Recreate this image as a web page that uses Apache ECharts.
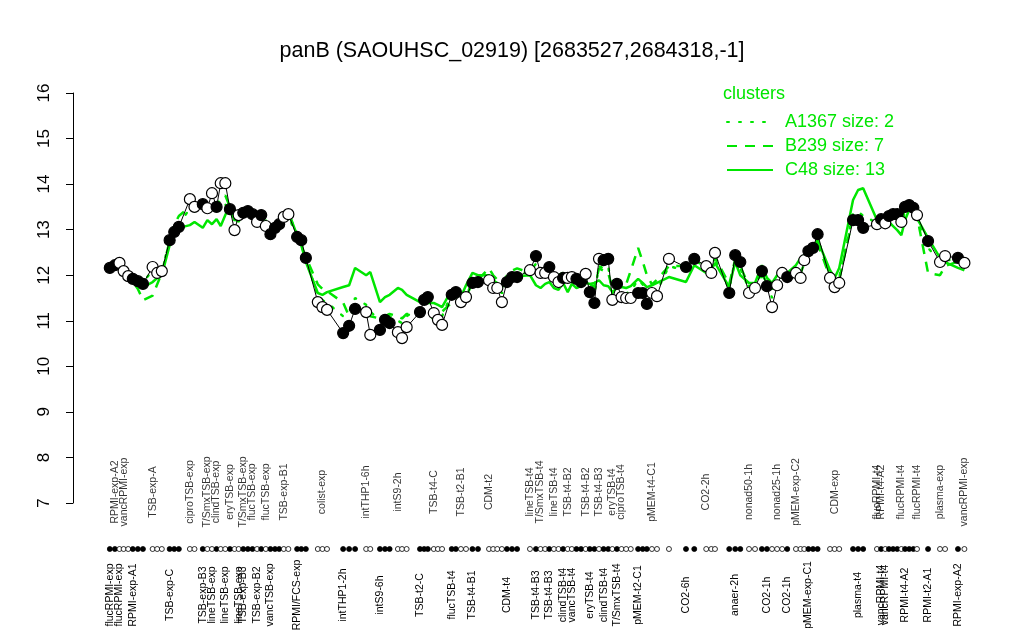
<!DOCTYPE html>
<html><head><meta charset="utf-8">
<script src="https://cdn.jsdelivr.net/npm/echarts@6/dist/echarts.min.js"></script>
<style>html,body{margin:0;padding:0;background:#fff}#c{width:1024px;height:640px}</style>
</head><body><div id="c"></div>
<script>
const chartTitle = 'panB (SAOUHSC_02919) [2683527,2684318,-1]';
const legendTitle = 'clusters';
const clusterNames = ['A1367 size: 2', 'B239 size: 7', 'C48 size: 13'];

// sample order positions (with gaps between condition groups)
const samplePos = [0,1.1,2.1,3.0,4.0,5.0,6.1,7.2,
9.3,10.3,11.3,
13.0,14.0,15.0,
17.4,18.4,
20.2,21.2,22.2,23.2,24.1,25.1,26.1,27.1,28.0,29.0,30.0,31.0,32.0,32.9,33.9,34.9,35.9,36.8,37.8,38.8,
40.7,41.6,42.6,
45.2,46.2,47.2,
50.7,52.0,53.3,
55.7,56.6,
58.7,59.8,60.8,
62.6,63.5,64.5,
67.4,68.3,69.1,
70.4,71.3,72.2,
74.3,75.2,76.3,77.4,78.8,80.0,
82.4,83.3,84.2,85.2,86.3,87.4,88.5,
91.3,92.6,93.6,94.6,95.5,96.5,97.5,98.5,99.5,100.4,101.4,102.4,103.4,104.3,105.3,106.3,107.3,108.3,109.2,110.2,111.2,112.2,113.2,
114.8,115.8,116.7,117.8,118.9,
121.5,
125.2,127.0,
129.6,130.7,131.5,
134.6,135.9,137.0,
138.9,140.2,
141.7,142.8,143.9,145.0,146.1,147.2,
149.1,150.1,150.9,151.8,152.8,153.8,
156.5,157.5,158.5,
161.5,162.6,163.7,
166.7,167.6,168.5,169.3,170.2,171.1,172.0,172.8,173.7,174.6,175.4,
177.8,
180.4,181.5,
184.3,185.7];

const expression = [12.16,12.22,12.27,12.09,11.98,11.92,11.87,11.81,
12.18,12.05,12.09,
12.77,12.95,13.06,
13.67,13.50,
13.56,13.47,13.80,13.50,14.02,14.02,13.45,12.99,13.32,13.37,13.41,13.34,13.17,13.32,13.08,12.90,13.04,13.12,13.28,13.34,
12.84,12.77,12.38,
11.41,11.30,11.24,
10.73,10.89,11.26,
11.19,10.69,
10.80,11.02,10.95,
10.75,10.62,10.86,
11.19,11.46,11.52,
11.17,11.02,10.91,
11.57,11.63,11.41,11.52,11.83,11.85,
11.89,11.72,11.72,11.41,11.85,11.96,11.96,
12.11,12.42,12.05,12.05,12.18,11.96,11.85,11.94,11.94,11.96,11.92,11.85,12.03,11.63,11.39,12.36,12.33,12.36,11.46,11.81,11.52,11.50,11.50,
11.61,11.61,11.37,11.61,11.54,
12.36,
12.18,12.36,
12.20,12.05,12.49,
11.61,12.44,12.29,
11.61,11.72,
12.09,11.76,11.30,11.78,12.05,11.96,
12.05,11.94,12.33,12.53,12.60,12.90,
11.94,11.74,11.83,
13.21,13.21,13.04,
13.12,13.23,13.14,13.30,13.34,13.34,13.17,13.50,13.54,13.48,13.32,
12.75,
12.29,12.42,
12.38,12.27];

// 1 = filled (black) marker, 0 = open marker
const filled = [1,1,0,0,0,1,1,1,
0,0,0,
1,1,1,
0,0,
1,0,0,1,0,0,1,0,0,1,1,1,0,1,0,1,1,1,0,0,
1,1,1,
0,0,0,
1,1,1,
0,0,
1,1,1,
0,0,0,
1,1,1,
0,0,0,
1,1,0,0,1,1,
0,0,0,0,1,1,1,
0,1,0,0,1,0,0,1,0,0,1,1,0,1,1,0,1,1,0,1,0,0,0,
1,1,1,0,0,
0,
1,1,
0,0,0,
1,1,1,
0,0,
1,1,0,0,0,1,
0,0,0,1,1,1,
0,0,0,
1,1,1,
0,1,0,1,1,1,0,1,1,1,0,
1,
0,0,
1,0];

const clusterA1367 = [12.15,12.20,12.25,12.10,12.00,11.95,11.90,11.85,
12.10,12.00,12.05,
12.80,13.00,13.15,
13.45,13.40,
13.50,13.35,13.50,13.40,13.60,13.55,13.45,13.15,13.25,13.40,13.35,13.30,13.20,13.30,13.15,12.95,13.05,13.15,13.25,13.30,
12.85,12.70,12.35,
11.55,11.45,11.40,
11.10,11.20,11.50,
11.35,11.20,
11.00,11.15,11.10,
11.00,10.95,11.10,
11.30,11.40,11.45,
11.20,11.15,11.10,
11.60,11.60,11.50,11.55,11.85,11.90,
12.00,11.85,11.80,11.60,11.90,12.00,12.00,
12.10,12.25,12.00,12.05,12.10,11.95,11.90,11.95,11.95,11.95,11.90,11.85,12.00,11.70,11.60,12.20,12.15,12.20,11.60,11.80,11.65,11.60,11.65,
11.90,11.80,11.55,11.70,11.65,
12.20,
12.10,12.30,
12.15,12.10,12.35,
11.70,12.35,12.15,
11.70,11.75,
12.10,11.85,11.50,11.85,12.00,11.95,
12.05,12.00,12.30,12.45,12.55,12.80,
12.00,11.85,11.95,
13.35,13.40,13.30,
13.15,13.20,13.15,13.25,13.30,13.25,13.10,13.40,13.50,13.45,13.30,
12.60,
12.30,12.35,
12.30,12.25];

const clusterB239 = [12.20,12.25,12.20,12.10,11.95,11.85,11.70,11.45,
11.55,11.80,12.05,
12.75,13.10,13.30,
13.50,13.45,
13.55,13.40,13.60,13.50,13.70,13.75,13.50,13.20,13.30,13.45,13.35,13.30,13.25,13.35,13.20,13.00,13.10,13.15,13.30,13.35,
12.90,12.65,12.40,
11.80,11.70,11.65,
11.40,11.10,11.25,
11.15,11.10,
11.05,11.10,11.15,
11.10,11.05,11.15,
11.15,11.20,11.10,
11.05,11.00,11.20,
11.40,11.50,11.55,11.50,11.85,11.90,
12.15,12.00,11.90,11.80,12.00,12.10,12.15,
12.05,12.10,12.00,12.05,12.15,11.95,12.00,12.05,11.90,12.00,11.95,11.90,12.05,11.80,11.75,12.15,12.10,12.05,11.70,11.85,11.75,11.80,12.10,
12.60,12.30,12.00,11.80,11.90,
12.20,
12.20,12.35,
12.15,12.05,12.40,
11.80,12.35,12.20,
11.75,11.75,
12.00,11.85,11.70,11.75,11.95,11.90,
12.00,12.05,12.25,12.45,12.55,12.70,
11.95,11.80,11.90,
13.30,13.25,13.10,
13.15,13.20,13.15,13.25,13.30,13.30,13.20,13.45,13.50,13.45,13.30,
12.05,
12.00,12.20,
12.30,12.20];

const clusterC48 = [12.16,12.20,12.16,12.05,11.98,11.89,11.83,11.74,
11.85,11.94,12.00,
12.66,12.86,13.04,
13.10,13.17,
13.04,13.21,13.12,13.23,13.08,13.32,13.54,13.25,13.17,13.43,13.32,13.39,13.21,13.37,13.12,13.04,13.08,13.17,13.25,13.39,
12.88,12.66,12.29,
11.61,11.57,11.63,
11.74,11.78,12.16,
12.00,12.07,
11.41,11.52,11.57,
11.72,11.68,11.57,
11.41,11.39,11.39,
11.39,11.35,11.30,
11.68,11.61,11.52,11.78,12.05,12.00,
12.00,11.89,11.83,11.74,11.85,11.94,11.98,
12.00,11.78,11.72,11.81,11.85,11.72,11.68,11.83,11.63,11.81,11.72,11.76,11.83,11.81,11.83,11.89,11.78,11.76,11.63,11.72,11.74,11.72,11.76,
11.92,11.83,11.74,11.78,11.83,
11.96,
11.85,12.22,
12.05,12.11,12.27,
11.74,12.29,12.00,
11.83,11.83,
12.22,11.94,11.83,12.00,12.07,12.05,
12.22,12.38,12.44,12.51,12.55,12.77,
12.11,11.94,12.16,
13.65,13.87,13.91,
13.21,13.06,13.12,13.17,13.08,12.99,12.88,13.21,13.43,13.50,13.25,
12.82,
12.38,12.29,
12.16,12.11];

// sample labels (1-based sample number, text), above and below the sample strip
const topLabels = [[2,'RPMI-exp-A2'],[4,'vancRPMI-exp'],[9,'TSB-exp-A'],[15,'ciproTSB-exp'],[18,'T/SmxTSB-exp'],
[20,'clindTSB-exp'],[23,'eryTSB-exp'],[26,'T/SmxTSB-exp'],[28,'flucTSB-exp'],[31,'flucTSB-exp'],[35,'TSB-exp-B1'],
[41,'colist-exp'],[46,'intTHP1-6h'],[51,'intS9-2h'],[57,'TSB-t4-C'],[62,'TSB-t2-B1'],[66,'CDM-t2'],
[73,'lineTSB-t4'],[75,'T/SmxTSB-t4'],[78,'lineTSB-t4'],[81,'TSB-t4-B2'],[85,'TSB-t4-B2'],[88,'TSB-t4-B3'],
[91,'eryTSB-t4'],[93,'ciproTSB-t4'],[99,'pMEM-t4-C1'],[104,'CO2-2h'],[110,'nonad50-1h'],[115,'nonad25-1h'],
[118,'pMEM-exp-C2'],[125,'CDM-exp'],[130,'flucRPMI-t4'],[131,'RPMI-t4-A2'],[136,'flucRPMI-t4'],[140,'flucRPMI-t4'],
[142,'plasma-exp'],[145,'vancRPMI-exp']];
const bottomLabels = [[1,'flucRPMI-exp'],[3,'flucRPMI-exp'],[6,'RPMI-exp-A1'],[12,'TSB-exp-C'],[17,'TSB-exp-B3'],
[19,'lineTSB-exp'],[22,'lineTSB-exp'],[25,'lineTSB-exp'],[26,'TSB-exp-B3'],[29,'TSB-exp-B2'],[32,'vancTSB-exp'],
[37,'RPMI/FCS-exp'],[43,'intTHP1-2h'],[48,'intS9-6h'],[54,'TSB-t2-C'],[60,'flucTSB-t4'],[64,'TSB-t4-B1'],
[70,'CDM-t4'],[74,'TSB-t4-B3'],[77,'TSB-t4-B3'],[80,'clindTSB-t4'],[82,'vancTSB-t4'],[86,'eryTSB-t4'],
[89,'clindTSB-t4'],[92,'T/SmxTSB-t4'],[96,'pMEM-t2-C1'],[102,'CO2-6h'],[108,'anaer-2h'],[113,'CO2-1h'],
[117,'CO2-1h'],[121,'pMEM-exp-C1'],[128,'plasma-t4'],[131,'vancRPMI-t4'],[132,'vancRPMI-t4'],[137,'RPMI-t4-A2'],
[141,'RPMI-t2-A1'],[144,'RPMI-exp-A2']];

const FONT = '"Liberation Sans", Arial, Helvetica, sans-serif';
const GREEN = '#00e600';

const pairs = arr => samplePos.map((x, i) => [x, arr[i]]);
const pts = pairs(expression);
const bottomMap = {};
bottomLabels.forEach(([n, t]) => { bottomMap[n - 1] = t; });

const chart = echarts.init(document.getElementById('c'), null, {renderer: 'canvas'});
const labelBase = {rotate: 90, align: 'center', verticalAlign: 'middle', position: 'inside',
  fontSize: 10.5, color: '#000', fontFamily: FONT};

chart.setOption({
  animation: false,
  backgroundColor: '#fff',
  title: [
    {text: chartTitle, left: 'center', top: 35,
     textStyle: {fontFamily: FONT, fontSize: 21.5, fontWeight: 'normal', color: '#000'}},
    {text: legendTitle, left: 718, top: 80,
     textStyle: {fontFamily: FONT, fontSize: 18, fontWeight: 'normal', color: GREEN}}
  ],
  legend: {
    orient: 'vertical', left: 721, top: 107, itemWidth: 46, itemHeight: 14, itemGap: 4,
    data: clusterNames, selectedMode: false,
    itemStyle: {opacity: 0},
    textStyle: {fontFamily: FONT, fontSize: 18, color: GREEN, lineHeight: 20, padding: [0, 0, 0, 7]}
  },
  grid: [
    {left: 73, top: 93, width: 925, height: 410},
    {left: 73, top: 544, width: 925, height: 10}
  ],
  xAxis: [
    {type: 'value', gridIndex: 0, min: -8, max: 193, show: false},
    {type: 'value', gridIndex: 1, min: -8, max: 193, show: false}
  ],
  yAxis: [
    {type: 'value', gridIndex: 0, min: 7, max: 16, interval: 1,
     axisLine: {show: true, onZero: false, lineStyle: {color: '#000', width: 1}},
     axisTick: {show: true, length: 7, lineStyle: {color: '#000'}},
     splitLine: {show: false},
     axisLabel: {rotate: 90, fontSize: 17, color: '#000', margin: 20, fontFamily: FONT}},
    {type: 'value', gridIndex: 1, min: 0, max: 1, show: false}
  ],
  series: [
    {name: clusterNames[0], type: 'line', data: pairs(clusterA1367), symbol: 'none', silent: true,
     lineStyle: {color: GREEN, width: 2.5, type: [2, 10], cap: 'round'}, itemStyle: {color: GREEN}, z: 2},
    {name: clusterNames[1], type: 'line', data: pairs(clusterB239), symbol: 'none', silent: true,
     lineStyle: {color: GREEN, width: 2.5, type: [10, 8]}, itemStyle: {color: GREEN}, z: 2},
    {name: clusterNames[2], type: 'line', data: pairs(clusterC48), symbol: 'none', silent: true,
     lineStyle: {color: GREEN, width: 2.5, type: 'solid'}, itemStyle: {color: GREEN}, z: 2},
    {type: 'line', data: pts, symbol: 'none', silent: true,
     lineStyle: {color: '#000', width: 1}, z: 3},
    {type: 'scatter', data: pts.map((p, i) => ({value: p, itemStyle: {color: filled[i] ? '#000' : '#fff'}})),
     symbol: 'circle', symbolSize: 11, silent: true,
     itemStyle: {borderColor: '#000', borderWidth: 1.2, opacity: 1}, z: 4},
    {type: 'scatter', xAxisIndex: 1, yAxisIndex: 1, symbol: 'circle', symbolSize: 5, silent: true,
     itemStyle: {borderColor: '#000', borderWidth: 0.8, opacity: 1},
     label: Object.assign({show: false, offset: [-46, 0]}, labelBase),
     data: samplePos.map((x, i) => {
       const d = {value: [x, 0.5], itemStyle: {color: filled[i] ? '#000' : '#fff'}};
       if (bottomMap[i]) d.label = {show: true, formatter: bottomMap[i]};
       return d;
     })},
    {type: 'scatter', xAxisIndex: 1, yAxisIndex: 1, symbol: 'circle', symbolSize: 1, silent: true,
     itemStyle: {color: 'rgba(0,0,0,0)'},
     label: Object.assign({show: true, offset: [57, 0]}, labelBase),
     data: topLabels.map(([n, t]) => ({value: [samplePos[n - 1], 0.5], label: {show: true, formatter: t}}))}
  ]
});
</script>
</body></html>
